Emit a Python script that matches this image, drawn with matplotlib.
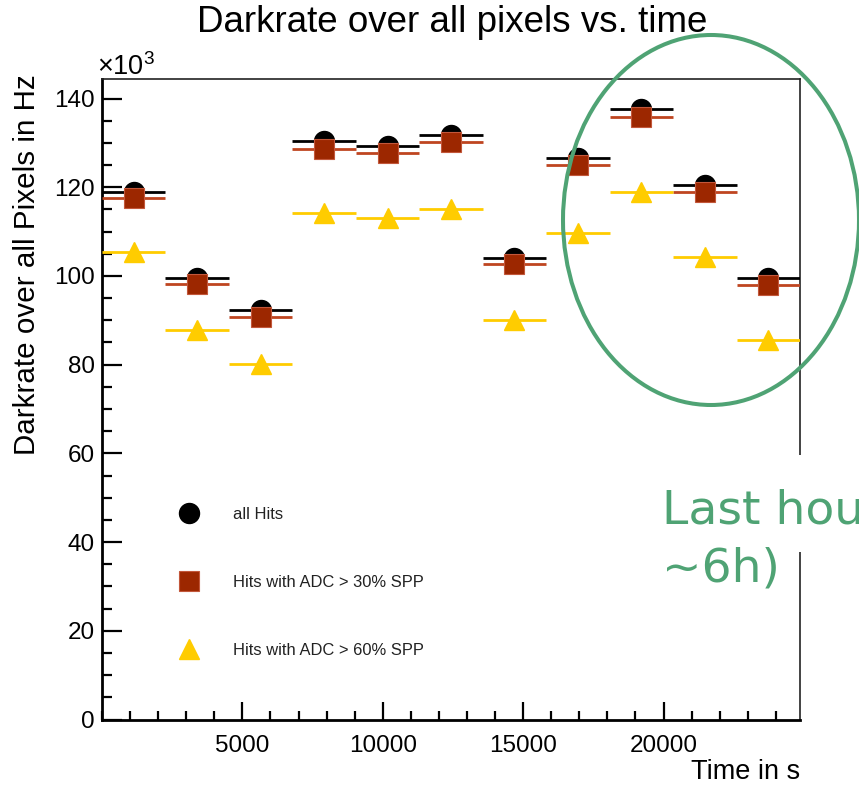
import matplotlib
matplotlib.use("Agg")
import matplotlib.pyplot as plt
from matplotlib.lines import Line2D
from matplotlib.patches import Ellipse, Rectangle
from matplotlib.ticker import MultipleLocator

plt.rcParams["font.family"] = ["Liberation Sans", "DejaVu Sans"]
plt.rcParams["mathtext.fontset"] = "custom"
plt.rcParams["mathtext.rm"] = "Liberation Sans"

# Time bins (centre and half width in s); rates in units of 10^3 Hz
time_s = [1130, 3390, 5650, 7910, 10170, 12430, 14690, 16950, 19210, 21470, 23730]
half_bin = 1130
all_hits = [118.9, 99.6, 92.4, 130.5, 129.2, 131.8, 104.1, 126.6, 137.6, 120.6, 99.6]
adc_30 = [117.5, 98.2, 90.7, 128.7, 127.8, 130.2, 102.6, 125.1, 135.9, 119.0, 97.9]
adc_60 = [105.4, 87.8, 80.2, 114.1, 113.0, 115.2, 90.0, 109.6, 119.0, 104.2, 85.5]
labels = ["all Hits", "Hits with ADC > 30% SPP", "Hits with ADC > 60% SPP"]

W, H = 859, 786
fig = plt.figure(figsize=(W / 100, H / 100), dpi=100)
ax = fig.add_axes([102 / W, 1 - 719.5 / H, 698 / W, 640.5 / H])
ax.set_xlim(0, 24860)
ax.set_ylim(0, 144.4)

black = "#000000"
red_fill = "#9c2700"
red_line = "#bf4520"
yellow = "#ffcc00"
ms = 14.4
lw = 2.0

ax.errorbar(time_s, all_hits, xerr=half_bin, fmt="o", color=black, ms=ms,
            elinewidth=lw, capsize=0, zorder=3)
ax.errorbar(time_s, adc_30, xerr=half_bin, fmt="s", color=red_fill, ecolor=red_line,
            mec="#c2573a", mew=0.8, ms=ms, elinewidth=lw, capsize=0, zorder=4)
ax.errorbar(time_s, adc_60, xerr=half_bin, fmt="^", color=yellow, ms=ms,
            elinewidth=lw, capsize=0, zorder=5)

# axes styling
ax.xaxis.set_major_locator(MultipleLocator(5000))
ax.xaxis.set_minor_locator(MultipleLocator(1000))
ax.yaxis.set_major_locator(MultipleLocator(20))
ax.yaxis.set_minor_locator(MultipleLocator(5))
ax.set_xticks([5000, 10000, 15000, 20000])
ax.tick_params(axis="both", which="both", direction="in", width=1.6, colors="black")
ax.tick_params(axis="x", which="major", length=13, pad=11, labelsize=17.5)
ax.tick_params(axis="x", which="minor", length=6.5)
ax.tick_params(axis="y", which="major", length=14.4, pad=5, labelsize=17.5)
ax.tick_params(axis="y", which="minor", length=7.2)
for side in ("left", "bottom"):
    ax.spines[side].set_linewidth(2.0)
for side in ("top", "right"):
    ax.spines[side].set_linewidth(1.2)
    ax.spines[side].set_color("#222222")

fig.text(452 / W, 1 - 23 / H, "Darkrate over all pixels vs. time", ha="center",
         va="center", fontsize=26.5)
fig.text(27 / W, 1 - 265 / H, "Darkrate over all Pixels in Hz", rotation=90,
         ha="center", va="center", fontsize=21.3)
fig.text(800 / W, 1 - 772 / H, "Time in s", ha="right", va="center", fontsize=19.5)
fig.text(97 / W, 1 - 67 / H, "×10$^{3}$", ha="left", va="center", fontsize=19.5)

# legend without frame, markers only
handles = [
    Line2D([], [], ls="none", marker="o", color=black, ms=ms),
    Line2D([], [], ls="none", marker="s", color=red_fill, mec="#c2573a", mew=0.8, ms=ms),
    Line2D([], [], ls="none", marker="^", color=yellow, ms=ms),
]
fs = 11.9
fs_px = fs * 100 / 72
leg = ax.legend(handles, labels, loc="upper left", frameon=False, fontsize=fs,
                handlelength=2.0, handletextpad=(233 - 189 - fs_px) / fs_px,
                labelspacing=3.2, borderpad=0, borderaxespad=0,
                bbox_to_anchor=((189 - fs_px) / W, 1 - 507 / H),
                bbox_transform=fig.transFigure)
for t in leg.get_texts():
    t.set_color("#222222")

# highlighted region and note
green = "#4fa374"
fig.patches.append(Ellipse((711 / W, 1 - 220 / H), 296 / W, 370 / H, fill=False,
                           ec=green, lw=2.9, transform=fig.transFigure, zorder=10))
fig.patches.append(Rectangle((650 / W, 1 - 552 / H), 209 / W, 97 / H, fc="white",
                             ec="none", transform=fig.transFigure, zorder=9))
fig.text(662 / W, 1 - 523 / H, "Last hours", ha="left", va="baseline", fontsize=34,
         color=green, family="DejaVu Sans", zorder=11)
fig.text(662 / W, 1 - 582 / H, "~6h)", ha="left", va="baseline", fontsize=34,
         color=green, family="DejaVu Sans", zorder=11)

fig.savefig("out.png", dpi=100)
